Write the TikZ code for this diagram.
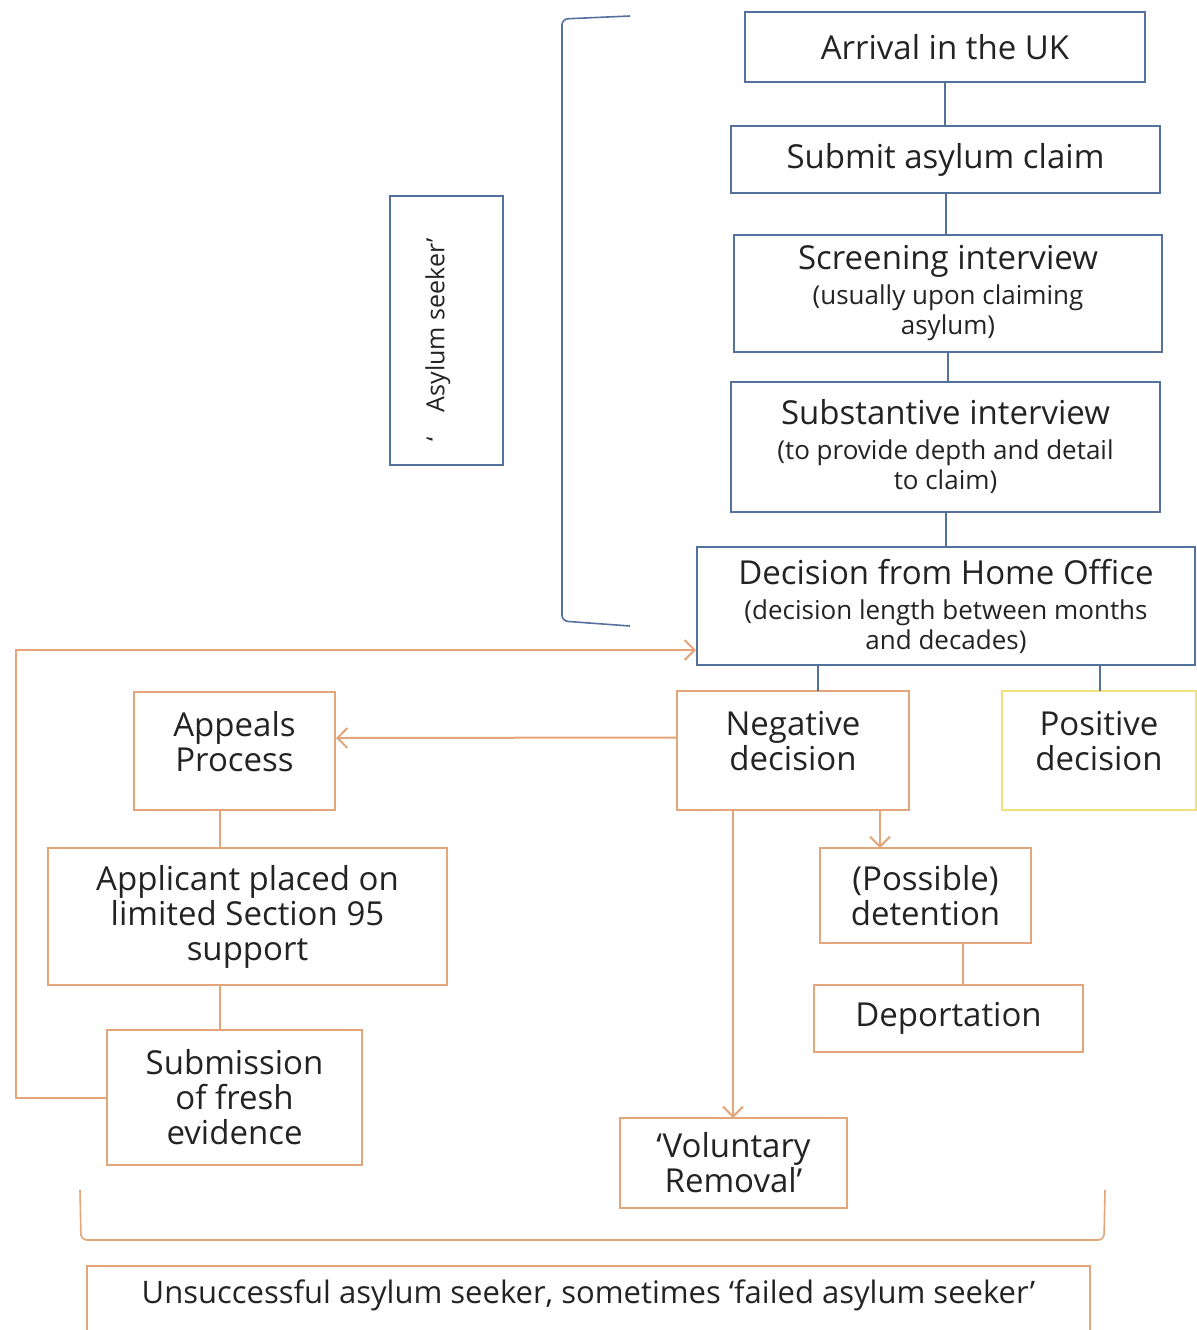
\documentclass[tikz,border=0pt]{standalone}
\usepackage{fontspec}
\setmainfont{Open Sans}
\usetikzlibrary{arrows.meta}

\definecolor{stepblue}{RGB}{84,112,156}
\definecolor{steporange}{RGB}{226,166,122}
\definecolor{stepyellow}{RGB}{238,226,120}
\definecolor{textgray}{RGB}{35,35,35}

\newcommand{\boxtitle}{\fontsize{16.5}{17.5}\selectfont}
\newcommand{\boxnote}{\fontsize{13}{14}\selectfont}

\begin{document}
\begin{tikzpicture}[x=0.5pt,y=0.5pt,yscale=-1,xscale=1,
  boxbase/.style={draw,line width=1pt,inner sep=0pt,align=center,text=textgray,font=\boxtitle},
  bluebox/.style={boxbase,draw=stepblue},
  orangebox/.style={boxbase,draw=steporange},
  yellowbox/.style={boxbase,draw=stepyellow},
  blueline/.style={draw=stepblue,line width=1pt},
  orangeline/.style={draw=steporange,line width=1pt},
  orangearrow/.style={orangeline,-{Straight Barb[length=5pt,width=10pt]}}]
        \useasboundingbox (0,0) rectangle (1196,1330);

        %Shape: Rectangle [id:arrival]
        \node [bluebox,minimum width=200pt,minimum height=35pt] (arrival) at (945,47) {Arrival in the UK};
        %Shape: Rectangle [id:submit]
        \node [bluebox,minimum width=214.5pt,minimum height=33.5pt] (submit) at (945.5,159.5) {Submit asylum claim};
        %Shape: Rectangle [id:screening]
        \node [bluebox,minimum width=214pt,minimum height=58.5pt] (screening) at (948,293.5) {Screening interview\\ \boxnote (usually upon claiming\\[-2.5pt] \boxnote asylum)};
        %Shape: Rectangle [id:substantive]
        \node [bluebox,minimum width=214.5pt,minimum height=65pt] (substantive) at (945.5,447) {Substantive interview\\ \boxnote (to provide depth and detail\\[-2.5pt] \boxnote to claim)};
        %Shape: Rectangle [id:homeoffice]
        \node [bluebox,minimum width=249pt,minimum height=59pt] (homeoffice) at (946,606) {Decision from Home Office\\ \boxnote (decision length between months\\[-2.5pt] \boxnote and decades)};
        %Shape: Rectangle [id:seeker]
        \node [bluebox,minimum width=56.5pt,minimum height=134.5pt] (seeker) at (446.5,330.5) {};
        \node [rotate=90,text=textgray,inner sep=0pt] (seekerlabel) at (438,340) {\fontsize{12.5}{14}\selectfont ‘\quad Asylum seeker’};

        %Shape: Rectangle [id:negative]
        \node [orangebox,minimum width=116pt,minimum height=59.5pt] (negative) at (793,750.5) {Negative\\ decision\\[-7.5pt]};
        %Shape: Rectangle [id:positive]
        \node [yellowbox,minimum width=97pt,minimum height=59.5pt] (positive) at (1099,750.5) {Positive\\ decision\\[-7.5pt]};
        %Shape: Rectangle [id:appeals]
        \node [orangebox,minimum width=100.5pt,minimum height=59pt] (appeals) at (234.5,751) {Appeals\\ Process\\[-7.5pt]};
        %Shape: Rectangle [id:section95]
        \node [orangebox,minimum width=199.5pt,minimum height=68.5pt] (section95) at (247.5,916.5) {Applicant placed on\\ limited Section 95\\ support};
        %Shape: Rectangle [id:fresh]
        \node [orangebox,minimum width=127.5pt,minimum height=67.5pt] (fresh) at (234.5,1097.5) {Submission\\ of fresh\\ evidence};
        %Shape: Rectangle [id:detention]
        \node [orangebox,minimum width=105.5pt,minimum height=47.5pt] (detention) at (925.5,895.5) {(Possible)\\ detention};
        %Shape: Rectangle [id:deport]
        \node [orangebox,minimum width=134.5pt,minimum height=33.5pt] (deport) at (948.5,1018.5) {Deportation};
        %Shape: Rectangle [id:voluntary]
        \node [orangebox,minimum width=113.5pt,minimum height=45pt] (voluntary) at (733.5,1163) {‘Voluntary\\ Removal’};
        %Shape: Rectangle [id:failed]
        \node [orangebox,minimum width=501.5pt,minimum height=40pt,anchor=north,font=\fontsize{15.5}{16}\selectfont] (failed) at (588.5,1265) {Unsuccessful asylum seeker, sometimes ‘failed asylum seeker’\\[-1.5pt]};

        %Straight Lines [id:blue connectors]
        \draw [blueline] (arrival.south) -- (arrival.south |- submit.north);
        \draw [blueline] (submit.south) -- (submit.south |- screening.north);
        \draw [blueline] (screening.south) -- (screening.south |- substantive.north);
        \draw [blueline] (substantive.south) -- (substantive.south |- homeoffice.north);
        \coordinate (negtop) at (818,691);
        \coordinate (postop) at (1100,691);
        \draw [blueline] (negtop) -- (negtop |- homeoffice.south);
        \draw [blueline] (postop) -- (postop |- homeoffice.south);

        %Shape: Bracket [id:seeker bracket]
        \draw [blueline,line width=0.8pt,rounded corners=3pt] (630,16) -- (562,19) -- (562,621) -- (630,626);

        %Straight Lines [id:orange connectors]
        \coordinate (appline) at (220,848);
        \coordinate (freshline) at (220,1030);
        \coordinate (dettop) at (880,848);
        \coordinate (depline) at (963,985);
        \coordinate (voltop) at (733,1118);
        \coordinate (loopcorner) at (16,650);
        \draw [orangeline] (appline) -- (appline |- appeals.south);
        \draw [orangeline] (freshline) -- (freshline |- section95.south);
        \draw [orangeline] (depline) -- (depline |- detention.south);
        \draw [orangearrow] ([yshift=-6.5pt]negative.west) -- ([yshift=-6.5pt]appeals.east);
        \draw [orangearrow] (dettop |- negative.south) -- (dettop);
        \draw [orangearrow] (voltop |- negative.south) -- (voltop);
        \draw [orangearrow] (fresh.west) -| (loopcorner) -- (loopcorner -| homeoffice.west);

        %Shape: Brace [id:failed brace]
        \draw [orangeline,line width=0.8pt,rounded corners=3pt] (80,1190) -- (81,1240) -- (1104,1240) -- (1105,1190);

    \end{tikzpicture}
\end{document}
